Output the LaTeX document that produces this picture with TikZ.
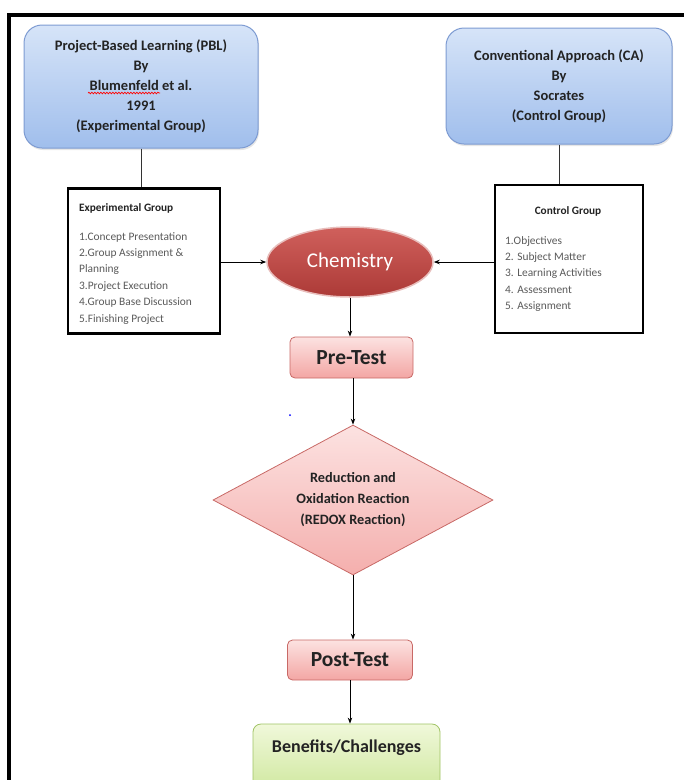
\documentclass[tikz,border=0pt]{standalone}
\usepackage{fontspec}
\setmainfont{Carlito}
\usetikzlibrary{shapes.geometric,arrows.meta,decorations.pathmorphing,shadows}
\definecolor{txtdark}{RGB}{35,35,35}
\definecolor{listgray}{RGB}{90,90,90}
\definecolor{bluetop}{RGB}{214,228,248}
\definecolor{bluebot}{RGB}{160,190,236}
\definecolor{blueedge}{RGB}{125,155,210}
\definecolor{redtop}{RGB}{208,96,92}
\definecolor{redbot}{RGB}{172,58,55}
\definecolor{rededge}{RGB}{232,190,188}
\definecolor{pinktop}{RGB}{252,226,225}
\definecolor{pinkbot}{RGB}{243,166,164}
\definecolor{pinkedge}{RGB}{200,105,102}
\definecolor{greentop}{RGB}{240,248,218}
\definecolor{greenbot}{RGB}{208,232,160}
\definecolor{greenedge}{RGB}{160,195,100}
\tikzset{
  approachbox/.style={draw=blueedge, line width=1pt, rounded corners=18pt,
    top color=bluetop, bottom color=bluebot, align=center, text=txtdark,
    font=\bfseries\fontsize{14.5}{20}\selectfont,
    drop shadow={opacity=0.2, shadow xshift=1pt, shadow yshift=-2pt}},
  groupbox/.style={draw=black, line width=2.5pt, fill=white, inner sep=0pt},
  grouphead/.style={font=\bfseries\fontsize{11.3}{13}\selectfont, text=txtdark, inner sep=0pt},
  grouplist/.style={font=\fontsize{11.4}{16.4}\selectfont, text=listgray, align=left, inner sep=0pt},
  stagebox/.style={draw=pinkedge, line width=0.8pt, rounded corners=5pt,
    top color=pinktop, bottom color=pinkbot, text=txtdark,
    font=\bfseries\fontsize{21.5}{24}\selectfont},
  connector/.style={draw=black!80, line width=0.8pt},
  flowarrow/.style={draw=black, line width=1pt, -{Stealth[length=6pt,width=4.5pt]}}
}
\begin{document}
\begin{tikzpicture}[x=1pt,y=-1pt]
\useasboundingbox (0,0) rectangle (684,780);
% frame
\draw[line width=3.5pt, black] (9,800) -- (9,15) -- (700,15);

% top boxes
\node[approachbox, minimum width=234pt, minimum height=123pt] (pbl) at (141,86.5)
  {Project-Based Learning (PBL)\\By\\Blumenfeld et al.\\1991\\(Experimental Group)};
\node[approachbox, minimum width=226pt, minimum height=116pt] (ca) at (559,86)
  {Conventional Approach (CA)\\By\\Socrates\\(Control Group)};
\coordinate (squigA) at (88,93);
\coordinate (squigB) at (160,93);
\draw[red, line width=0.7pt, decorate, decoration={snake, amplitude=0.8pt, segment length=3pt}] (squigA) -- (squigB);

% group boxes
\node[groupbox, minimum width=152pt, minimum height=145pt] (exp) at (144,261) {};
\node[grouphead, anchor=base west] (exphead) at (79,211) {Experimental Group};
\node[grouplist, anchor=north west] (explist) at (79,232)
  {1.Concept Presentation\\2.Group Assignment \&\\Planning\\3.Project Execution\\4.Group Base Discussion\\5.Finishing Project};

\node[groupbox, minimum width=148pt, minimum height=148pt] (ctl) at (569,259) {};
\node[grouphead, anchor=base] (ctlhead) at (568,214) {Control Group};
\node[grouplist, anchor=north west] (ctllist) at (505,236)
  {1.Objectives\\2. Subject Matter\\3. Learning Activities\\4. Assessment\\5. Assignment};

\draw[connector] (pbl.south) -- (pbl.south |- exp.north);
\draw[connector] (ca.south) -- (ca.south |- ctl.north);

% chemistry
\node[ellipse, draw=rededge, line width=1.5pt, top color=redtop, bottom color=redbot,
  minimum width=166pt, minimum height=70pt, text=white,
  font=\fontsize{21}{24}\selectfont] (chem) at (350,262) {Chemistry};
\draw[flowarrow] (chem.west -| exp.east) -- (chem.west);
\draw[flowarrow] (chem.east -| ctl.west) -- (chem.east);

% pre-test
\node[stagebox, minimum width=123pt, minimum height=41pt] (pre) at (351.5,357.5) {Pre-Test};
\draw[flowarrow] (chem.south) -- (chem.south |- pre.north);

% diamond
\node[diamond, aspect=1.87, inner sep=0pt, draw=pinkedge, line width=0.8pt,
  top color=pinktop, bottom color=pinkbot!90, minimum width=280pt, minimum height=150pt,
  align=center, text=txtdark, font=\bfseries\fontsize{14.3}{21}\selectfont] (redox) at (353,500)
  {Reduction and\\Oxidation Reaction\\(REDOX Reaction)};
\draw[flowarrow] (pre.south -| redox.north) -- (redox.north);

\fill[blue] (290,415) circle (1pt);

% post-test
\node[stagebox, minimum width=125pt, minimum height=40pt] (post) at (350,660) {Post-Test};
\draw[flowarrow] (redox.south) -- (redox.south |- post.north);

% benefits
\node[draw=greenedge, line width=0.8pt, rounded corners=8pt, top color=greentop, bottom color=greenbot,
  minimum width=187pt, minimum height=66pt] (ben) at (346.5,757) {};
\node[font=\bfseries\fontsize{18}{20}\selectfont, text=txtdark] (bentext) at (346.5,748) {Benefits/Challenges};
\draw[flowarrow] (post.south) -- (post.south |- ben.north);
\end{tikzpicture}
\end{document}
